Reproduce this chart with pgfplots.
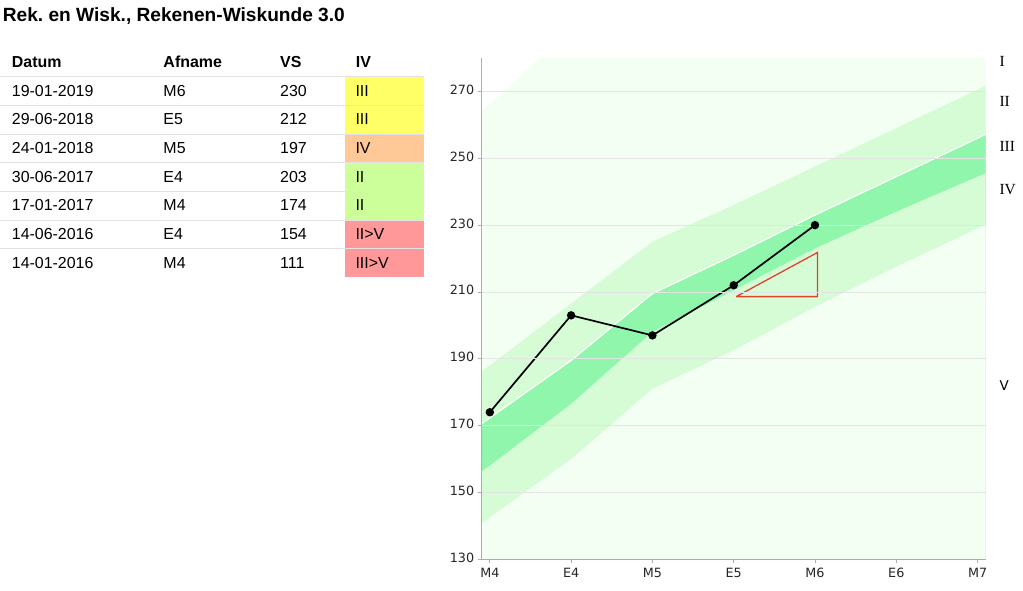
\documentclass[border=0pt]{standalone}
\usepackage{fontspec}
\setmainfont{Liberation Sans}
\newfontfamily\dejavu{DejaVu Sans}
\newfontfamily\serifl{Liberation Serif}
\usepackage{pgfplots}
\usepackage{pgfplotstable}
\pgfplotsset{compat=1.18}
\frenchspacing

\definecolor{bandlight}{HTML}{F2FFF2}
\definecolor{bandmid}{HTML}{D5FCD5}
\definecolor{bandcore}{HTML}{8FF6AC}
\definecolor{gridgray}{HTML}{E4E4E4}
\definecolor{axisgray}{HTML}{ADADAD}
\definecolor{rowline}{HTML}{E2E2E2}
\definecolor{cellyellow}{HTML}{FFFF66}
\definecolor{cellorange}{HTML}{FFC896}
\definecolor{cellgreen}{HTML}{CCFF99}
\definecolor{cellpink}{HTML}{FF9999}
\definecolor{trired}{HTML}{E0442E}

% band boundaries, top to bottom
\pgfplotstableread{
x    b1    b2    b3    b4    b5
-0.1 264   186.3 170.6 156.3 140.8
0    266.2 188   172.3 158   142.5
1    288.5 206.5 189.5 176.5 160
2    310   225   209.5 198   181
3    322   236   221   210.5 192.5
4    334   247.5 233   223   205.5
5    346   259   244.5 234   217.5
6    358   270.5 256   244.5 229
6.1  359   271.7 257.2 245.5 230.2
}\bands

\pgfplotstableread{
x vs
0 174
1 203
2 197
3 212
4 230
}\scores

\begin{document}
\begin{tikzpicture}
\path[use as bounding box] (0,0) rectangle (1023bp,-591bp);

\begin{scope}[x=1bp,y=-1bp]
\node[anchor=base west, inner sep=0, font=\fontsize{19.2}{22}\selectfont\bfseries] at (2.7,21.7) {Rek. en Wisk., Rekenen-Wiskunde 3.0};

\begin{scope}[every node/.style={anchor=base west, inner sep=0, font=\fontsize{16}{19}\selectfont}]
\node[font=\fontsize{16}{19}\selectfont\bfseries] at (11.7,67.7) {Datum};
\node[font=\fontsize{16}{19}\selectfont\bfseries] at (163.3,67.7) {Afname};
\node[font=\fontsize{16}{19}\selectfont\bfseries] at (280,67.7) {VS};
\node[font=\fontsize{16}{19}\selectfont\bfseries] at (355.7,67.7) {IV};
\foreach \d/\a/\v/\c/\col [count=\i from 0] in {
  19-01-2019/M6/230/III/cellyellow,
  29-06-2018/E5/212/III/cellyellow,
  24-01-2018/M5/197/IV/cellorange,
  30-06-2017/E4/203/II/cellgreen,
  17-01-2017/M4/174/II/cellgreen,
  14-06-2016/E4/154/II>V/cellpink,
  14-01-2016/M4/111/III>V/cellpink} {
  \fill[\col] (345,{76.7+28.67*\i}) rectangle (424,{76.7+28.67*(\i+1)});
  \node at (11.7,{96+28.7*\i}) {\d};
  \node at (163.3,{96+28.7*\i}) {\a};
  \node at (280,{96+28.7*\i}) {\v};
  \node at (355.3,{96+28.7*\i}) {\c};
}
\end{scope}
\foreach \i in {0,...,6}
  \draw[rowline, line width=1bp] (0,{76.7+28.67*\i}) -- (424,{76.7+28.67*\i});

\begin{scope}[every node/.style={anchor=base west, inner sep=0, font=\serifl\fontsize{15.5}{18}\selectfont}]
\node at (999.3,66) {I};
\node at (999.3,106.7) {II};
\node at (999.3,151) {III};
\node at (999.3,194.3) {IV};
\node[font=\dejavu\fontsize{13.5}{16}\selectfont] at (999.3,390) {V};
\end{scope}
\end{scope}

\begin{axis}[
    scale only axis,
    width=504bp,
    height=501.3bp,
    at={(481.7bp,-559.3bp)},
    anchor=south west,
    xmin=-0.1, xmax=6.1,
    ymin=130, ymax=280,
    axis lines*=left,
    axis on top,
    axis line style={axisgray, line width=1bp},
    xtick={0,...,6},
    xticklabels={M4,E4,M5,E5,M6,E6,M7},
    ytick={130,150,...,270},
    tick align=outside,
    major tick length=4bp,
    tick style={axisgray, line width=0.8bp},
    ymajorgrids,
    grid style={gridgray, line width=0.8bp},
    ticklabel style={font=\dejavu\fontsize{12.8}{15}\selectfont, text=black!85},
    typeset ticklabels with strut,
    /pgf/number format/assume math mode=true,
    ]
\addplot[fill=bandlight, draw=none] table[x=x, y=b1] {\bands} \closedcycle;
\addplot[fill=bandmid, draw=none] table[x=x, y=b2] {\bands} \closedcycle;
\addplot[fill=bandcore, draw=none] table[x=x, y=b3] {\bands} \closedcycle;
\addplot[fill=bandmid, draw=none] table[x=x, y=b4] {\bands} \closedcycle;
\addplot[fill=bandlight, draw=none] table[x=x, y=b5] {\bands} \closedcycle;
\addplot[white, line width=1.2bp] table[x=x, y=b3] {\bands};

\addplot[trired, line width=1.3bp, line join=miter] coordinates {(3.03,208.6) (4.03,221.8) (4.03,208.6) (3.03,208.6)};

\addplot[black, line width=1.7bp, mark=*, mark size=3.3bp] table[x=x, y=vs] {\scores};
\end{axis}
\end{tikzpicture}
\end{document}
